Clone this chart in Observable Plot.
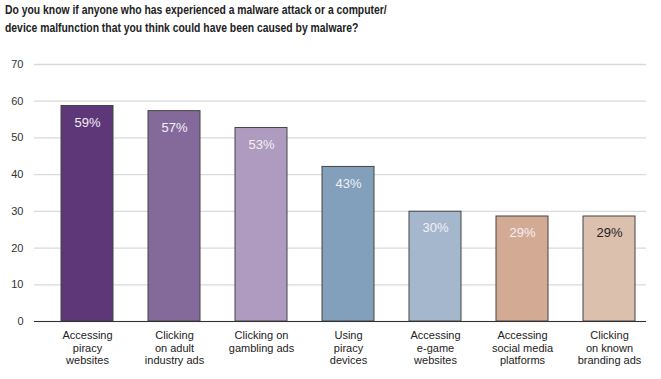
<!DOCTYPE html>
<html>
<head>
<meta charset="utf-8">
<script src="https://cdn.jsdelivr.net/npm/d3@7"></script>
<script src="https://cdn.jsdelivr.net/npm/@observablehq/plot@0.6"></script>
<style>
  html, body { margin: 0; padding: 0; background: #fff; }
  #wrap { width: 661px; height: 379px; overflow: hidden; }
  #title {
    height: 47px; box-sizing: border-box; padding: 1px 0 0 5px;
    font-family: "Liberation Sans", Arial, sans-serif;
    font-weight: bold; font-size: 12.5px; line-height: 18px; color: #222;
  }
  #title span { display: inline-block; transform: scaleX(0.83); transform-origin: 0 0; white-space: nowrap; }
  svg { display: block; }
</style>
</head>
<body>
<div id="wrap">
  <div id="title"><span>Do you know if anyone who has experienced a malware attack or a computer/<br>device malfunction that you think could have been caused by malware?</span></div>
  <div id="chart"></div>
</div>
<script>
const categories = [
  "Accessing\npiracy\nwebsites",
  "Clicking\non adult\nindustry ads",
  "Clicking on\ngambling ads",
  "Using\npiracy\ndevices",
  "Accessing\ne-game\nwebsites",
  "Accessing\nsocial media\nplatforms",
  "Clicking\non known\nbranding ads"
];
const values = [58.7, 57.3, 52.7, 42.1, 29.9, 28.6, 28.6];
const valueLabels = ["59%", "57%", "53%", "43%", "30%", "29%", "29%"];
const barColors = ["#5d3777", "#846a9a", "#ae9bbf", "#829fbb", "#a4b7cc", "#d3aa94", "#dcc0ae"];
const darkLabel = [false, false, false, false, false, false, true];
const yTicks = [0, 10, 20, 30, 40, 50, 60, 70];

const data = categories.map((c, i) => ({c, v: values[i], label: valueLabels[i], dark: darkLabel[i]}));

const chart = Plot.plot({
  width: 661,
  height: 332,
  marginTop: 17,
  marginBottom: 58,
  marginLeft: 34,
  marginRight: 15,
  style: {fontFamily: "'Liberation Sans', Arial, sans-serif", fontSize: "11px", color: "#333", background: "#fff"},
  x: {domain: categories, paddingInner: 0.405, paddingOuter: 0.2035, align: 0.71, label: null},
  y: {domain: [0, 70], ticks: yTicks, label: null},
  color: {domain: categories, range: barColors},
  marks: [
    Plot.gridY(yTicks, {stroke: "#dadada", strokeOpacity: 1, strokeWidth: 1.3}),
    Plot.axisY(yTicks, {tickSize: 0, tickPadding: 11, label: null, fill: "#333", fontSize: 11}),
    Plot.barY(data, {x: "c", y: "v", fill: "c", stroke: "#444", strokeWidth: 1}),
    Plot.ruleY([0], {stroke: "#333", strokeWidth: 1.2}),
    Plot.axisX({tickSize: 0, tickPadding: 9, label: null, lineHeight: 1.12, fill: "#222", fontSize: 11}),
    Plot.text(data.filter(d => !d.dark), {x: "c", y: "v", text: "label", dy: 16.5, fill: "#f4f0f6", fontSize: 13}),
    Plot.text(data.filter(d => d.dark), {x: "c", y: "v", text: "label", dy: 16.5, fill: "#222", fontSize: 13})
  ]
});
document.getElementById("chart").appendChild(chart);
</script>
</body>
</html>
